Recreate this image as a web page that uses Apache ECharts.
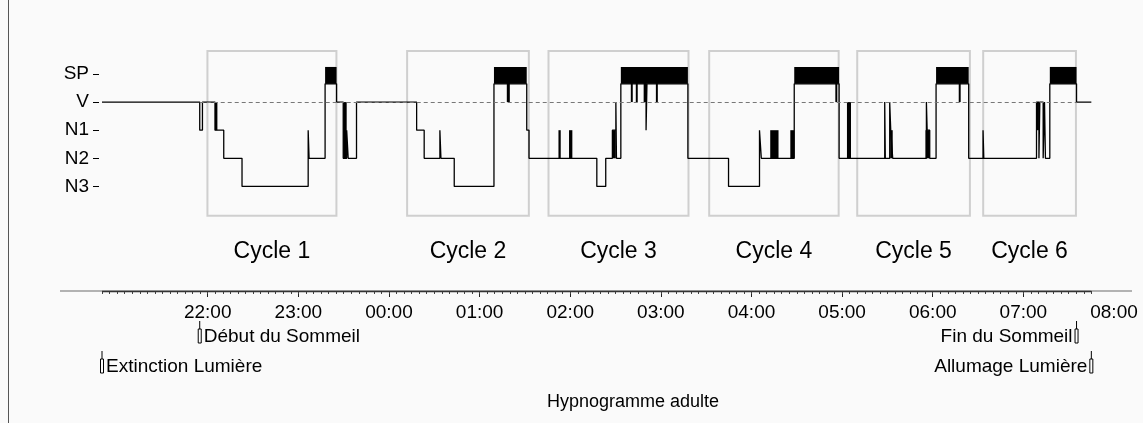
<!DOCTYPE html>
<html><head><meta charset="utf-8">
<script src="https://cdn.jsdelivr.net/npm/echarts@6/dist/echarts.min.js"></script>
<style>html,body{margin:0;padding:0;background:#fafafa}#c{width:1143px;height:423px}</style>
</head><body><div id="c"></div>
<script>
// ---------- DATA (times in minutes from midnight of the first day) ----------
const stageNames = ['N3', 'N2', 'N1', 'V', 'SP'];           // levels 0..4
const hourLabels = ['22:00','23:00','00:00','01:00','02:00','03:00','04:00','05:00','06:00','07:00','08:00'];
const hourLabelTimes = [1320,1380,1440,1500,1560,1620,1680,1740,1800,1860,1920];
const hourTickTimes = [1320,1380,1440,1500,1560,1620,1680,1740,1800,1860];
// hypnogram: [start time, stage level] (3 = V, 4 = SP/REM)
const hypnogram = [
  [1250,3],[1314.7,2],[1316.5,3],[1324.8,2],[1330.6,1],[1342.7,0],[1386.5,2],[1387.1,1],
  [1397.7,4],[1405.3,3],[1409.7,1],[1412.0,2],[1413.0,1],[1418.5,3],
  [1458.3,2],[1463.3,1],[1473.7,2],[1474.4,1],[1483.2,0],[1509.5,4],
  [1531.2,2],[1532.7,1],[1577.6,0],[1583.5,1],[1587.9,2],[1590.2,3],[1590.6,1],
  [1593.5,4],[1610.2,2],[1610.8,4],
  [1637.9,1],[1664.8,0],[1685.3,2],[1686.5,1],
  [1708.3,4],[1738.0,1],
  [1768.2,3],[1768.6,1],[1771.5,3],[1772.2,2],[1773.5,1],[1795.8,3],[1796.3,2],[1798.0,1],
  [1802.2,4],[1823.8,1],[1833.3,2],[1833.8,1],
  [1868.7,3],[1870.3,1],[1870.9,3],[1873.1,1],[1874.0,3],[1874.6,1],
  [1877.5,4],[1895.2,3],[1905.0,3]
];
// REM (SP) periods, drawn as solid bands: [start, end]
const remPeriods = [[1397.7,1405.3],[1509.5,1531.2],[1593.5,1637.9],[1708.3,1738.0],[1802.2,1823.8],[1877.5,1895.2]];
// rapid alternations / brief arousals drawn as solid blocks: [t0, t1, low level, high level]
const denseBlocks = [
  [1324.8,1326.4,2,3],[1409.7,1412.0,1,3],[1518.0,1520.0,3,4],[1552.2,1553.7,1,2],[1559.2,1561.4,1,2],
  [1587.9,1590.2,1,2],[1600.1,1601.4,3,4],[1603.4,1604.7,3,4],[1608.6,1610.6,3,4],[1616.7,1618.0,3,4],
  [1692.4,1697.9,1,2],[1705.7,1708.3,1,2],[1735.5,1736.8,3,4],[1743.2,1745.9,1,3],
  [1771.8,1773.5,1,2],[1795.2,1798.0,1,2],[1817.2,1818.5,3,4],[1868.7,1870.3,2,3]
];
const cycleNames = ['Cycle 1','Cycle 2','Cycle 3','Cycle 4','Cycle 5','Cycle 6'];
const cycleStart = [1319.8,1452.0,1545.6,1652.0,1750.0,1833.4];
const cycleEnd   = [1405.2,1532.6,1638.3,1737.7,1824.6,1894.8];
const eventLabels = ['Extinction Lumière','Début du Sommeil','Fin du Sommeil','Allumage Lumière'];
const eventTimes  = [1250,1314.7,1895.2,1905.0];
const eventKinds  = ['lights','sleep','sleep','lights'];
const sleepOnset = 1314.7, sleepEnd = 1895.2;
const recordStart = 1250, recordEnd = 1905.0;
const titleText = 'Hypnogramme adulte';

// ---------- LAYOUT / STYLE ----------
const FONT = 'Liberation Sans, Arial, sans-serif';
const Y_MIN = -3.72, Y_MAX = 5.92;
const REM_BOTTOM = 3.65, REM_TOP = 4.25;
const BOX_TOP = 4.82, BOX_BOTTOM = -1.04, CYCLE_LABEL_LEVEL = -2.31;

const minorTicks = [];
for (let t = recordStart; t <= recordEnd; t += 5) minorTicks.push(t);
const fmtTime = v => { const m = ((Math.round(v) % 1440) + 1440) % 1440; return String(Math.floor(m/60)).padStart(2,'0') + ':' + String(m%60).padStart(2,'0'); };

const lineData = hypnogram.map(d => [d[0], d[1] === 4 ? REM_BOTTOM : d[1]]);
const remData = remPeriods.map(r => [r[0], r[1], 0]);
const cycleData = cycleStart.map((s, i) => [s, cycleEnd[i], 0]);
const eventData = eventTimes.map(t => [t, 0]);
const clampLevel = v => (v >= 4 ? REM_BOTTOM + 0.05 : v);

const chart = echarts.init(document.getElementById('c'), null, {renderer: 'canvas'});
const mid = (recordStart + recordEnd) / 2;
chart.setOption({
  backgroundColor: '#fafafa',
  animation: false,
  graphic: [
    { type: 'line', z: 0, shape: { x1: 60, y1: 291, x2: 1132, y2: 291 }, style: { stroke: '#9a9a9a', lineWidth: 1.5 } },
    { type: 'line', z: 0, shape: { x1: 8.5, y1: 0, x2: 8.5, y2: 423 }, style: { stroke: '#555', lineWidth: 1 } },
    { type: 'text', z: 5, x: 633, y: 402, style: { text: titleText, align: 'center', verticalAlign: 'middle', font: '18px ' + FONT, fill: '#000' } }
  ],
  grid: { left: 102, right: 29, top: 20, bottom: 132 },
  xAxis: [
    { type: 'value', min: 1250, max: 1920, position: 'bottom',
      axisLine: { show: false, onZero: false }, splitLine: { show: false },
      axisTick: { show: true, customValues: hourTickTimes, length: 6, lineStyle: { color: '#222', width: 1 } },
      axisLabel: { customValues: hourLabelTimes, formatter: fmtTime, fontFamily: FONT, fontSize: 19, color: '#000', margin: 12 } },
    { type: 'value', min: 1250, max: 1920, position: 'bottom', gridIndex: 0,
      axisLine: { show: false, onZero: false }, splitLine: { show: false }, axisLabel: { show: false },
      axisTick: { show: true, customValues: minorTicks, length: 3, lineStyle: { color: '#444', width: 1 } } }
  ],
  yAxis: { type: 'value', min: Y_MIN, max: Y_MAX, offset: 3,
    axisLine: { show: false, onZero: false }, splitLine: { show: false },
    axisTick: { show: true, customValues: [0,1,2,3,4], length: 6, lineStyle: { color: '#000' } },
    axisLabel: { customValues: [0,1,2,3,4], formatter: v => stageNames[Math.round(v)], fontFamily: FONT, fontSize: 19, color: '#000', margin: 10 } },
  series: [
    { type: 'custom', name: 'cycles', z: 1, clip: false, data: cycleData, encode: { x: [0,1], y: 2 },
      renderItem: (params, api) => {
        const p0 = api.coord([api.value(0), BOX_TOP]);
        const p1 = api.coord([api.value(1), BOX_BOTTOM]);
        const ly = api.coord([api.value(0), CYCLE_LABEL_LEVEL])[1];
        return { type: 'group', children: [
          { type: 'rect', shape: { x: p0[0], y: p0[1], width: p1[0]-p0[0], height: p1[1]-p0[1] }, style: { fill: 'none', stroke: '#cfcfcf', lineWidth: 2 } },
          { type: 'text', style: { text: cycleNames[params.dataIndex], x: (p0[0]+p1[0])/2, y: ly, align: 'center', verticalAlign: 'middle', font: '23px ' + FONT, fill: '#000' } }
        ]};
      } },
    { type: 'line', name: 'hypnogram', z: 3, data: lineData, step: 'end', showSymbol: false, symbol: 'none',
      lineStyle: { color: '#000', width: 1.3 },
      markLine: { silent: true, symbol: 'none', label: { show: false },
        data: [
          [ { coord: [sleepOnset, 3], lineStyle: { type: [4,3], color: '#777', width: 1 } }, { coord: [sleepEnd, 3] } ],
          [ { coord: [recordStart, Y_MIN], lineStyle: { type: 'solid', color: '#333', width: 1.3 } }, { coord: [recordEnd, Y_MIN] } ]
        ] } },
    { type: 'custom', name: 'rem', z: 4, data: remData, encode: { x: [0,1], y: 2 },
      renderItem: (params, api) => {
        const p0 = api.coord([api.value(0), REM_TOP]);
        const p1 = api.coord([api.value(1), REM_BOTTOM]);
        return { type: 'rect', shape: { x: p0[0], y: p0[1], width: p1[0]-p0[0], height: p1[1]-p0[1] }, style: { fill: '#000' } };
      } },
    { type: 'custom', name: 'dense', z: 4, data: denseBlocks, encode: { x: [0,1], y: [2,3] },
      renderItem: (params, api) => {
        const p0 = api.coord([api.value(0), clampLevel(api.value(3))]);
        const p1 = api.coord([api.value(1), api.value(2)]);
        return { type: 'rect', shape: { x: p0[0], y: p0[1], width: Math.max(1.5, p1[0]-p0[0]), height: p1[1]-p0[1] }, style: { fill: '#000' } };
      } },
    { type: 'custom', name: 'events', z: 5, clip: false, data: eventData, encode: { x: 0, y: 1 },
      renderItem: (params, api) => {
        const i = params.dataIndex;
        const p = api.coord([api.value(0), Y_MIN]);
        const textTop = p[1] + (eventKinds[i] === 'sleep' ? 38 : 68);
        const right = api.value(0) < mid;
        const x = p[0];
        return { type: 'group', children: [
          { type: 'line', shape: { x1: x, y1: textTop - 8, x2: x, y2: textTop }, style: { stroke: '#000', lineWidth: 1 } },
          { type: 'rect', shape: { x: x - 1.5, y: textTop, width: 3, height: 14 }, style: { fill: '#fff', stroke: '#000', lineWidth: 1 } },
          { type: 'text', style: { text: eventLabels[i], x: right ? x + 4 : x - 4, y: textTop + 8, align: right ? 'left' : 'right', verticalAlign: 'middle', font: '19px ' + FONT, fill: '#000' } }
        ]};
      } }
  ]
});
</script></body></html>
